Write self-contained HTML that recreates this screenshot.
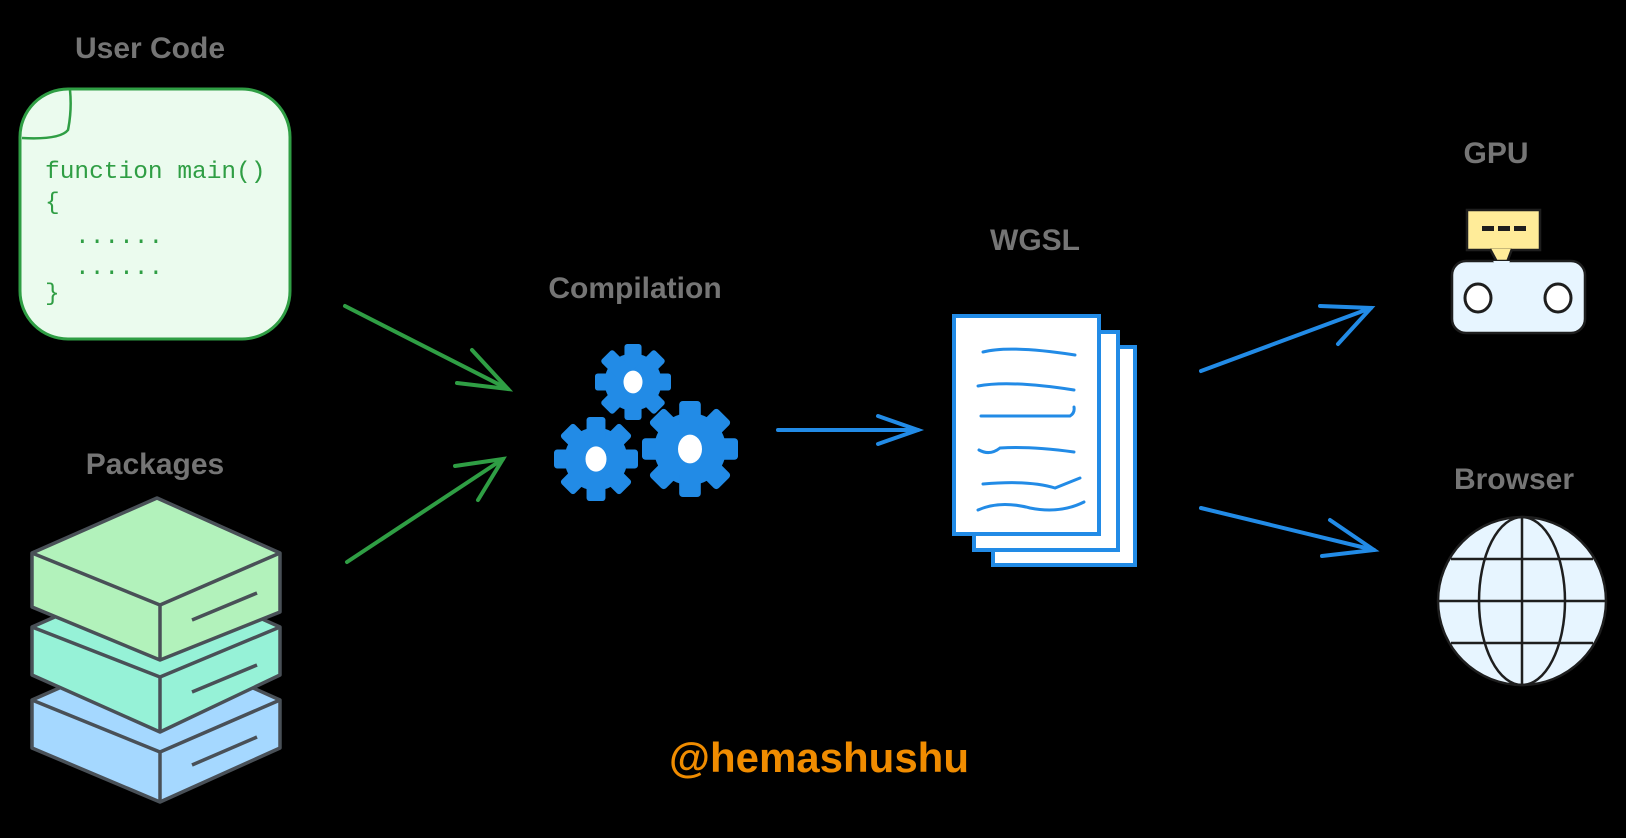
<!DOCTYPE html>
<html><head><meta charset="utf-8"><style>
html,body{margin:0;padding:0;background:#000;}
svg{display:block}
.lbl{font-family:"Liberation Sans",sans-serif;font-size:30px;fill:#757575;text-anchor:middle;font-weight:bold}
</style></head><body>
<svg width="1626" height="838" viewBox="0 0 1626 838" xmlns="http://www.w3.org/2000/svg">
<rect width="1626" height="838" fill="#000"/>
<text class="lbl" x="150" y="58">User Code</text>
<text class="lbl" x="155" y="474">Packages</text>
<text class="lbl" x="635" y="298">Compilation</text>
<text class="lbl" x="1035" y="250">WGSL</text>
<text class="lbl" x="1496" y="163">GPU</text>
<text class="lbl" x="1514" y="489">Browser</text>

<rect x="20" y="89" width="270" height="250" rx="48" fill="#ebfbee" stroke="#2f9e44" stroke-width="3"/>
<path d="M22 138 Q60 140 68 130 Q72 110 70 90" fill="none" stroke="#2f9e44" stroke-width="2.5"/>
<g font-family="Liberation Mono,monospace" font-size="24.5" fill="#2f9e44">
<text x="45" y="178">function main()</text>
<text x="45" y="209">{</text>
<text x="75" y="243">......</text>
<text x="75" y="274">......</text>
<text x="45" y="300">}</text>
</g>

<g stroke="#495057" stroke-width="3.5" stroke-linejoin="round">
<polygon points="32,700 157,645 280,700 280,748 160,802 32,748" fill="#a5d8ff"/>
<polyline points="32,700 160,752 280,700" fill="none"/>
<line x1="160" y1="752" x2="160" y2="802"/>
<line x1="192" y1="765" x2="257" y2="737"/>
<polygon points="32,627 157,572 280,627 280,675 160,732 32,675" fill="#96f2d7"/>
<polyline points="32,627 160,677 280,627" fill="none"/>
<line x1="160" y1="677" x2="160" y2="732"/>
<line x1="192" y1="692" x2="257" y2="665"/>
<polygon points="32,553 157,498 280,553 280,612 160,660 32,607" fill="#b2f2bb"/>
<polyline points="32,553 160,605 280,553" fill="none"/>
<line x1="160" y1="605" x2="160" y2="660"/>
<line x1="192" y1="620" x2="257" y2="593"/>
</g>

<g stroke="#2f9e44" stroke-width="4" fill="none" stroke-linecap="round">
<line x1="345" y1="306" x2="508" y2="389"/>
<polyline points="472,350 508,389 457,383"/>
<line x1="347" y1="562" x2="503" y2="459"/>
<polyline points="455,466 503,459 478,500"/>
</g>

<defs>
<g id="gear">
<circle r="30" fill="#228be6"/>
<g fill="#228be6">
<rect x="-9" y="-40" width="18" height="80" rx="3"/>
<rect x="-9" y="-40" width="18" height="80" rx="3" transform="rotate(45)"/>
<rect x="-9" y="-40" width="18" height="80" rx="3" transform="rotate(90)"/>
<rect x="-9" y="-40" width="18" height="80" rx="3" transform="rotate(135)"/>
</g>
<ellipse rx="10" ry="12" fill="#fff"/>
</g>
</defs>
<use href="#gear" transform="translate(633,382) scale(0.95)"/>
<use href="#gear" transform="translate(596,459) scale(1.05)"/>
<use href="#gear" transform="translate(690,449) scale(1.2)"/>

<g stroke="#228be6" stroke-width="4" fill="none" stroke-linecap="round">
<line x1="778" y1="430" x2="918" y2="430"/>
<polyline points="878,416 918,430 878,444"/>
<line x1="1201" y1="371" x2="1371" y2="308"/>
<polyline points="1320,306 1371,308 1338,344"/>
<line x1="1201" y1="508" x2="1374" y2="550"/>
<polyline points="1330,520 1374,550 1322,556"/>
</g>

<g stroke="#228be6" stroke-width="4" fill="#fff">
<rect x="993" y="347" width="142" height="218"/>
<rect x="974" y="332" width="144" height="218"/>
<rect x="954" y="316" width="145" height="218"/>
</g>
<g stroke="#228be6" stroke-width="3" fill="none" stroke-linecap="round">
<path d="M983 352 Q1010 345 1075 355"/>
<path d="M978 386 Q1010 380 1074 390"/>
<path d="M981 416 L1070 416 Q1075 413 1074 407"/>
<path d="M979 450 Q990 456 1000 448 Q1030 446 1074 452"/>
<path d="M983 484 Q1030 480 1055 488 Q1065 484 1080 478"/>
<path d="M978 510 Q1000 500 1030 508 Q1060 514 1084 502"/>
</g>

<g stroke="#1e1e1e" stroke-width="2.5">
<rect x="1467" y="210" width="73" height="40" fill="#ffec99"/>
<path d="M1490 249 L1503 273 L1512 249" fill="#ffec99"/>
<rect x="1452" y="261" width="133" height="72" rx="14" fill="#e7f5ff"/>
<path d="M1493 261 L1503 273 L1510 261" fill="#e7f5ff" stroke="none"/>
<ellipse cx="1478" cy="298" rx="13" ry="14" fill="#fff" stroke-width="3"/>
<ellipse cx="1558" cy="298" rx="13" ry="14" fill="#fff" stroke-width="3"/>
</g>
<g fill="#1e1e1e"><rect x="1482" y="226" width="12" height="5"/><rect x="1498" y="226" width="12" height="5"/><rect x="1514" y="226" width="12" height="5"/></g>

<g stroke="#1e1e1e" stroke-width="2.5" fill="none">
<circle cx="1522" cy="601" r="84" fill="#e7f5ff"/>
<line x1="1522" y1="517" x2="1522" y2="685"/>
<ellipse cx="1522" cy="601" rx="43" ry="84"/>
<line x1="1438" y1="601" x2="1606" y2="601"/>
<line x1="1451" y1="559" x2="1593" y2="559"/>
<line x1="1451" y1="643" x2="1593" y2="643"/>
</g>

<text x="819" y="772" font-family="Liberation Sans,sans-serif" font-size="42" font-weight="bold" fill="#f08c00" text-anchor="middle">@hemashushu</text>
</svg>
</body></html>
